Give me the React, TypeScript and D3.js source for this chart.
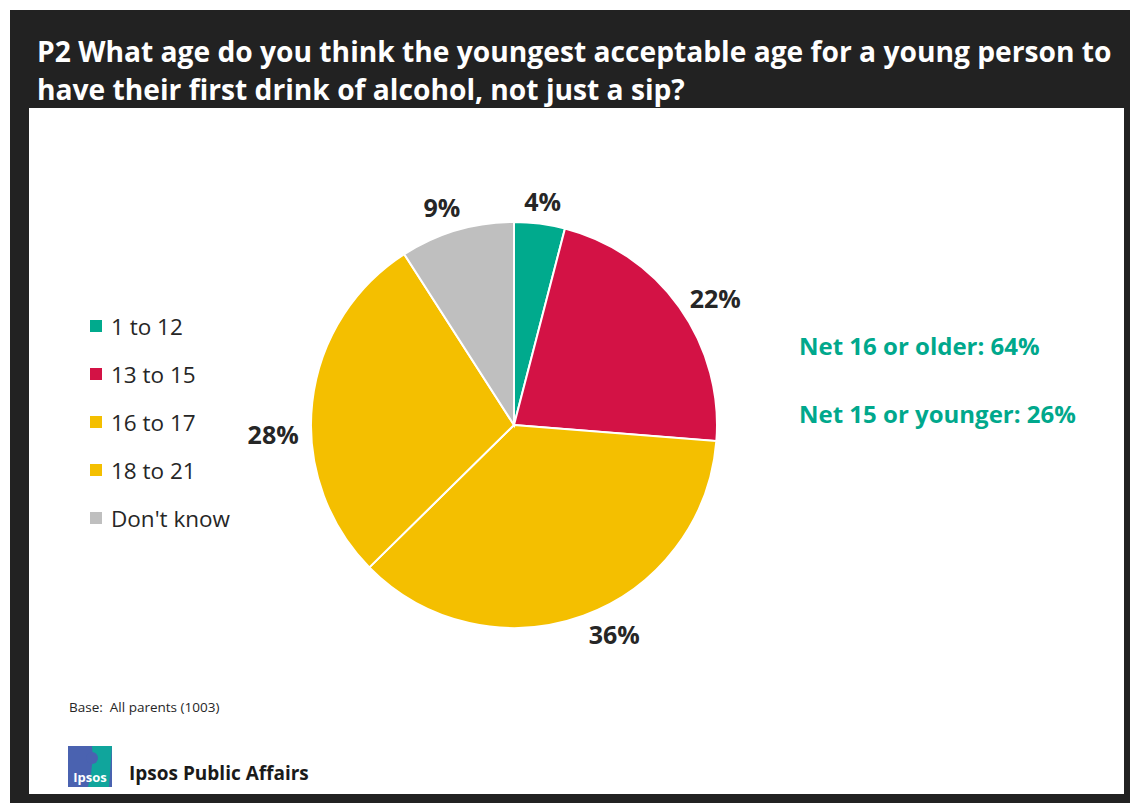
import React from "react";
import * as d3 from "d3";

const categories = ["1 to 12", "13 to 15", "16 to 17", "18 to 21", "Don't know"];
const values = [4, 22, 36, 28, 9];
const colors = ["#00aa8d", "#d31245", "#f4bf00", "#f4bf00", "#bfbfbf"];
const titleLines = [
  "P2 What age do you think the youngest acceptable age for a young person to",
  "have their first drink of alcohol, not just a sip?",
];
const netLines = ["Net 16 or older: 64%", "Net 15 or younger: 26%"];

// label placement tweaks (angle offset in degrees, radius)
const labelPlacement: [number, number][] = [
  [0, 226],
  [3.2, 238],
  [-5.6, 232],
  [-8.4, 241],
  [-1.9, 230],
];

const W = 1130;
const H = 803;

export default function App() {
  const cx = 514;
  const cy = 425;
  const r = 203;
  const pie = d3
    .pie<number>()
    .sort(null)
    .value((d) => d);
  const arcs = pie(values);
  const arc = d3.arc<d3.PieArcDatum<number>>().innerRadius(0).outerRadius(r);
  const legendY = d3.scalePoint<string>().domain(categories).range([326, 518]);
  const font = "'Open Sans', 'Noto Sans', sans-serif";

  return (
    <svg
      width={W}
      height={H}
      style={{ position: "absolute", left: 0, top: 0 }}
      fontFamily={font}
    >
      <rect x={0} y={0} width={W} height={H} fill="#ffffff" />
      <rect x={10} y={10} width={W - 10} height={H - 10} fill="#222222" />
      <rect x={29} y={108} width={1095} height={686} fill="#ffffff" />
      {titleLines.map((t, i) => (
        <text
          key={i}
          x={37}
          y={62 + i * 38}
          fill="#ffffff"
          fontWeight="bold"
          fontSize={28.2}
        >
          {t}
        </text>
      ))}
      <g transform={`translate(${cx},${cy})`}>
        {arcs.map((a, i) => (
          <path key={i} d={arc(a) || ""} fill={colors[i]} stroke="#ffffff" strokeWidth={2} />
        ))}
        {arcs.map((a, i) => {
          const mid = (a.startAngle + a.endAngle) / 2 + (labelPlacement[i][0] * Math.PI) / 180;
          const lr = labelPlacement[i][1];
          const lx = Math.sin(mid) * lr;
          const ly = -Math.cos(mid) * lr;
          return (
            <text
              key={"l" + i}
              x={lx}
              y={ly}
              textAnchor="middle"
              dominantBaseline="central"
              fontWeight="bold"
              fontSize={25}
              fill="#262626"
            >
              {values[i]}%
            </text>
          );
        })}
      </g>
      {categories.map((c, i) => (
        <g key={c}>
          <rect x={90} y={(legendY(c) as number) - 6} width={12} height={12} fill={colors[i]} />
          <text
            x={111}
            y={legendY(c) as number}
            dominantBaseline="central"
            fontSize={22.5}
            fill="#262626"
          >
            {c}
          </text>
        </g>
      ))}
      {netLines.map((t, i) => (
        <text
          key={t}
          x={799}
          y={355 + i * 68}
          fontWeight="bold"
          fontSize={24}
          fill="#00a88c"
        >
          {t}
        </text>
      ))}
      <text x={69} y={712} fontSize={13.5} fill="#262626" style={{ whiteSpace: "pre" }}>
        {"Base:  All parents (1003)"}
      </text>
      <g transform="translate(68,746)">
        <rect x={0} y={0} width={44} height={41} fill="#4a62b0" />
        <path d="M24,0 L44,0 L41,41 L20,41 Q26,20 24,0 Z" fill="#10a59c" />
        <circle cx={24} cy={12} r={6} fill="#4a62b0" />
        <text x={22} y={36} textAnchor="middle" fontSize={13} fontWeight="bold" fill="#ffffff">
          Ipsos
        </text>
      </g>
      <text x={129} y={780} fontSize={19} fontWeight="bold" fill="#1a1a1a">
        Ipsos Public Affairs
      </text>
    </svg>
  );
}
